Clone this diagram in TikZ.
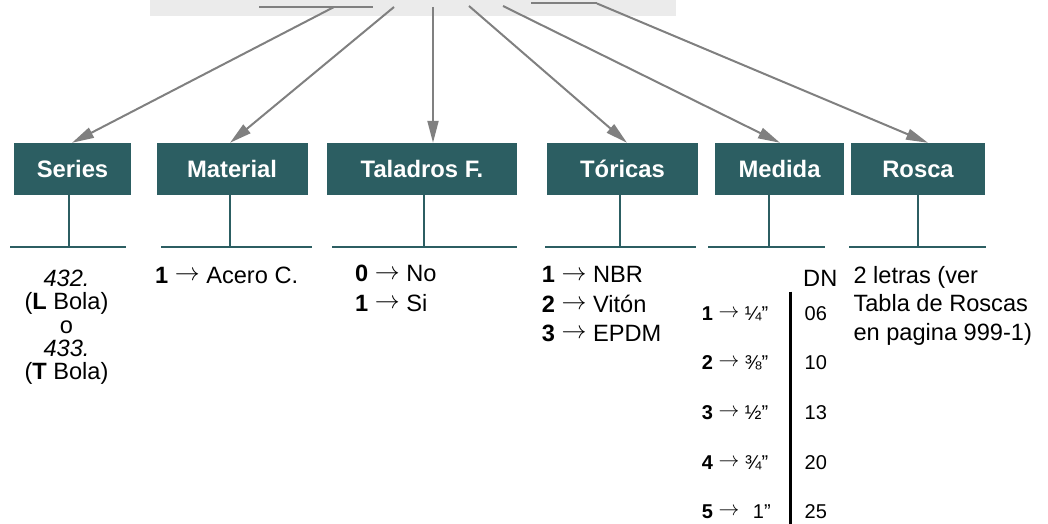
\documentclass[tikz,border=0pt]{standalone}
\usepackage{fontspec}
\setmainfont{Liberation Sans}
\definecolor{boxteal}{RGB}{44,94,98}
\definecolor{arrowgray}{RGB}{128,128,128}
\definecolor{bandgray}{RGB}{235,235,235}
\usetikzlibrary{calc,math}
\usetikzlibrary{arrows.meta}
\newcommand{\toarr}{\raisebox{0.11em}{$\rightarrow$}}

\begin{document}
\begin{tikzpicture}[x=1pt,y=-1pt,every node/.style={inner sep=0pt},
        codebox/.style={fill=boxteal,text=white,minimum height=52pt,font=\fontsize{23.8}{28}\selectfont\bfseries},
        pointer/.style={draw=arrowgray,line width=2pt,-{Triangle[length=22pt,width=11pt]}},
        bandline/.style={draw=arrowgray,line width=2pt},
        stem/.style={draw=boxteal,line width=2pt},
        rule/.style={draw=boxteal,line width=2.5pt},
        opts/.style={font=\fontsize{23.6}{29.3}\selectfont,align=left,anchor=north west},
        dnrow/.style={font=\fontsize{20}{22}\selectfont,anchor=base west}]
        \tikzmath{
            let \basey = 247;
            let \topy = 7;
        }
        \useasboundingbox (0,0) rectangle (1048,524);
        \fill[bandgray] (150,0) rectangle (676,16);

        % code boxes
        \node[codebox,minimum width=117pt] (series) at (72.5,169) {Series};
        \node[codebox,minimum width=151pt] (material) at (232,169) {Material};
        \node[codebox,minimum width=190pt] (taladros) at (422,169) {Taladros F.};
        \node[codebox,minimum width=151pt] (toricas) at (622.5,169) {Tóricas};
        \node[codebox,minimum width=129pt] (medida) at (779.5,169) {Medida};
        \node[codebox,minimum width=134pt] (rosca) at (918,169) {Rosca};

        % pointers out of the band
        \coordinate (p-series) at (334,\topy);
        \coordinate (p-material) at (394,\topy);
        \coordinate (p-taladros) at (433,\topy);
        \coordinate (p-toricas) at (469,6);
        \coordinate (p-medida) at (503,6);
        \coordinate (p-rosca) at (597,3.5);
        \draw[bandline] (259,\topy) -- (373,\topy);
        \draw[bandline] (531,3.5) -- (p-rosca);

        \draw[pointer] (p-series) -- ([xshift=-0.5pt]series.north);
        \draw[pointer] (p-material) -- ([xshift=-2pt]material.north);
        \draw[pointer] (p-taladros) -- ([xshift=11pt]taladros.north);
        \draw[pointer] (p-toricas) -- ([xshift=4.5pt]toricas.north);
        \draw[pointer] (p-medida) -- ([xshift=0.5pt]medida.north);
        \draw[pointer] (p-rosca) -- ([xshift=10pt]rosca.north);

        % stems and rules
        \draw[stem] ([xshift=-3.5pt]series.south) -- ++(0,52);
        \draw[stem] ([xshift=-2pt]material.south) -- ++(0,52);
        \draw[stem] ([xshift=1.5pt]taladros.south) -- ++(0,52);
        \draw[stem] ([xshift=-2.5pt]toricas.south) -- ++(0,52);
        \draw[stem] ([xshift=-10.5pt]medida.south) -- ++(0,52);
        \draw[stem] (rosca.south) -- ++(0,52);
        \draw[rule] (10,\basey) -- (126,\basey);
        \draw[rule] (161,\basey) -- (312,\basey);
        \draw[rule] (332,\basey) -- (516.5,\basey);
        \draw[rule] (545,\basey) -- (696,\basey);
        \draw[rule] (708,\basey) -- (825,\basey);
        \draw[rule] (849,\basey) -- (986,\basey);

        % options
        \node[font=\fontsize{23.6}{23.2}\selectfont,align=center,anchor=north] (series-opts) at (66.5,270)
            {\textit{432.}\\(\textbf{L} Bola)\\o\\\textit{433.}\\(\textbf{T} Bola)};
        \node[opts] (material-opts) at (155,266.4) {\textbf{1} \toarr{} Acero C.};
        \node[opts] (taladros-opts) at (355,265.1)
            {\textbf{0} \toarr{} No\\\textbf{1} \toarr{} Si};
        \node[opts] (toricas-opts) at (541.7,266.4)
            {\textbf{1} \toarr{} NBR\\\textbf{2} \toarr{} Vitón\\\textbf{3} \toarr{} EPDM};
        \node[opts,font=\fontsize{23.6}{28.5}\selectfont] (rosca-opts) at (853.3,266.1)
            {2 letras (ver\\Tabla de Roscas\\en pagina 999-1)};

        % medida table
        \node[font=\fontsize{23.6}{26}\selectfont,anchor=base west] (dn) at (803,286.7) {DN};
        \draw[line width=3pt] (790,291.7) -- (790,524);
        \node[dnrow] (m1) at (701.7,320) {\textbf{1} \toarr{} ¼”};
        \node[dnrow] (d1) at (804.5,320) {06};
        \node[dnrow] (m2) at (701.7,369) {\textbf{2} \toarr{} ⅜”};
        \node[dnrow] (d2) at (804.5,369) {10};
        \node[dnrow] (m3) at (701.7,419) {\textbf{3} \toarr{} ½”};
        \node[dnrow] (d3) at (804.5,419) {13};
        \node[dnrow] (m4) at (701.7,469) {\textbf{4} \toarr{} ¾”};
        \node[dnrow] (d4) at (804.5,469) {20};
        \node[dnrow] (m5) at (701.7,518) {\textbf{5} \toarr{} \hspace{8pt}1”};
        \node[dnrow] (d5) at (804.5,518) {25};
\end{tikzpicture}
\end{document}
